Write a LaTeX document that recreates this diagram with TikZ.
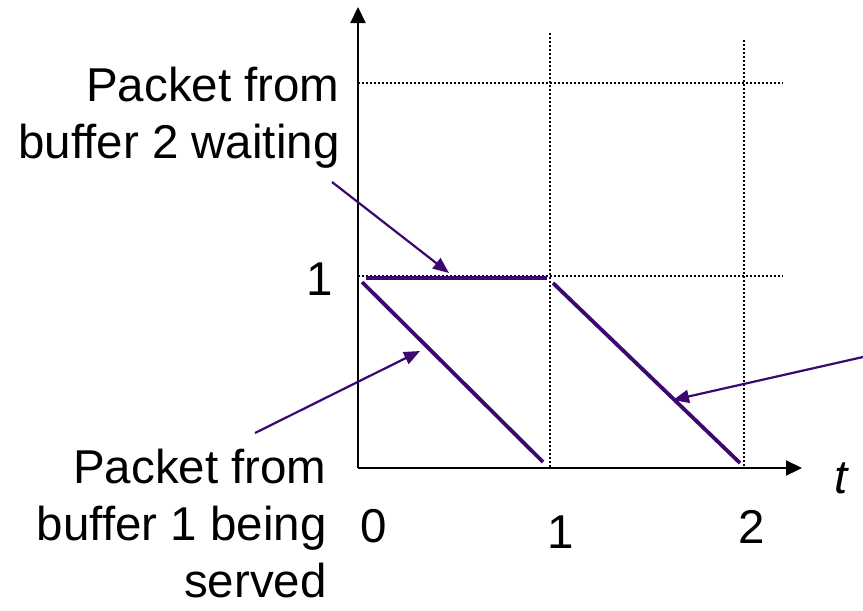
\documentclass[tikz,border=0pt]{standalone}
\usepackage{fontspec}
\setmainfont{Liberation Sans}
\usetikzlibrary{arrows.meta}
\definecolor{servepurple}{HTML}{3A0870}

\begin{document}
\begin{tikzpicture}[
  x=0.5pt,y=-0.5pt,
  axis/.style={line width=1.1pt,-{Triangle[length=8pt,width=7.5pt]}},
  gridline/.style={line width=1.1pt,dash pattern=on 1pt off 1pt},
  workload/.style={servepurple,line width=1.9pt},
  pointer/.style={servepurple,line width=1.1pt,-{Triangle[length=8pt,width=6.5pt]}},
  every node/.style={font=\fontsize{23.75}{28.5}\selectfont,inner sep=0pt}
]
  \useasboundingbox (0,0) rectangle (863,611);
  % axes and grid
  \coordinate (origin) at (358,468);
  \coordinate (ytip) at (358,7);
  \coordinate (xtip) at (802,468);
  \coordinate (g2l) at (358,83);  \coordinate (g2r) at (783,83);
  \coordinate (g1l) at (358,276); \coordinate (g1r) at (783,276);
  \coordinate (v1t) at (550,33);  \coordinate (v1b) at (550,468);
  \coordinate (v2t) at (744,40);  \coordinate (v2b) at (744,468);
  \draw[gridline] (g2l) -- (g2r);
  \draw[gridline] (g1l) -- (g1r);
  \draw[gridline] (v1t) -- (v1b);
  \draw[gridline] (v2t) -- (v2b);
  \draw[axis] (origin) -- (ytip);
  \draw[axis] (origin) -- (xtip);
  % remaining work
  \coordinate (waitA) at (366,278); \coordinate (waitB) at (547,278);
  \coordinate (srvA) at (362,282);  \coordinate (srvB) at (543,462);
  \coordinate (nextA) at (553,283); \coordinate (nextB) at (740,463);
  \draw[workload] (waitA) -- (waitB);
  \draw[workload] (srvA) -- (srvB);
  \draw[workload] (nextA) -- (nextB);
  % tick labels
  \node[anchor=base] (tick0) at (374,542) {0};
  \node[anchor=base] (tick1) at (561,548) {1};
  \node[anchor=base] (tick2) at (752,543) {2};
  \node[anchor=base east] (ytick1) at (333,295) {1};
  \node[anchor=base west] (tlabel) at (834,493) {\textit{t}};
  % annotations
  \node[align=right,anchor=base east] (waitlabel) at (340,158) {Packet from\\buffer 2 waiting};
  \node[align=right,anchor=base east] (srvlabel) at (327,597) {Packet from\\buffer 1 being\\served};
  \coordinate (waitfrom) at (332,182); \coordinate (waitto) at (449,273);
  \coordinate (srvfrom) at (255,433);  \coordinate (srvto) at (420,351);
  \coordinate (nextfrom) at (863,357); \coordinate (nextto) at (673,400);
  \draw[pointer] (waitfrom) -- (waitto);
  \draw[pointer] (srvfrom) -- (srvto);
  \draw[pointer] (nextfrom) -- (nextto);
\end{tikzpicture}
\end{document}
